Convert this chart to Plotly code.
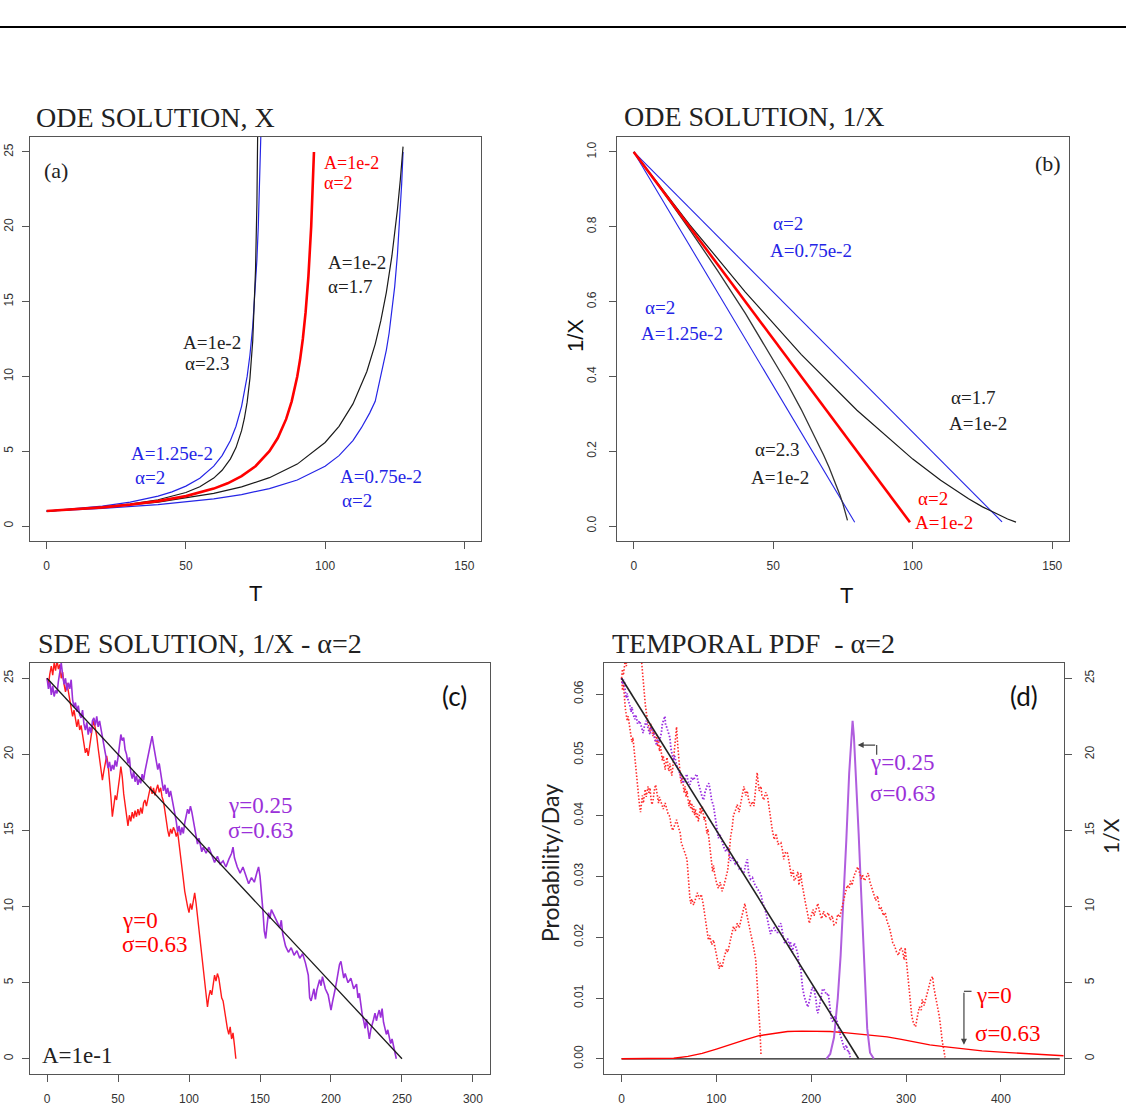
import plotly.graph_objects as go

# ---------------- DATA ----------------
# Panel (a): ODE solution X(T)
A_RED_T = [0, 10, 20, 30, 40, 50, 60, 65, 70, 75, 80, 83, 86, 88, 90, 91, 92, 93, 94, 95, 96]
A_RED_X = [1, 1.111, 1.25, 1.429, 1.667, 2, 2.5, 2.857, 3.333, 4, 5, 5.882, 7.143, 8.333, 10, 11.11, 12.5, 14.29, 16.67, 20, 25]
A_BLUE_HI_T = [0, 10, 20, 30, 40, 45, 50, 55, 60, 63, 66, 68, 70, 72, 73, 74, 75, 75.5, 76, 76.5, 77]
A_BLUE_HI_X = [1, 1.143, 1.333, 1.6, 2, 2.286, 2.667, 3.2, 4, 4.706, 5.714, 6.667, 8, 10, 11.43, 13.33, 16, 17.78, 20, 22.86, 26.67]
A_BLUE_LO_T = [0, 20, 40, 60, 70, 80, 90, 100, 105, 110, 113, 116, 118, 120, 122, 123, 124, 125, 126, 127, 127.5, 128]
A_BLUE_LO_X = [1, 1.176, 1.429, 1.818, 2.105, 2.5, 3.077, 4, 4.706, 5.714, 6.557, 7.547, 8.333, 10, 11.76, 12.9, 14.29, 16, 18.18, 21.05, 22.86, 25]
A_BLK23_T = [0, 10, 20, 30, 40, 50, 55, 60, 63, 66, 68, 70, 71, 72, 73, 74, 74.5, 75, 75.5, 76]
A_BLK23_X = [1, 1.113, 1.261, 1.463, 1.759, 2.242, 2.626, 3.205, 3.724, 4.489, 5.243, 6.374, 7.187, 8.28, 9.87, 12.37, 14.3, 17.08, 21.5, 30]
A_BLK17_T = [0, 20, 40, 60, 70, 80, 90, 100, 105, 110, 115, 118, 120, 122, 124, 125, 126, 127, 128]
A_BLK17_X = [1, 1.24, 1.599, 2.178, 2.617, 3.231, 4.139, 5.585, 6.667, 8.16, 10.33, 12.16, 13.71, 15.62, 18.05, 19.5, 21.18, 23.1, 25.36]

# Panel (b): ODE solution 1/X
B_RED_T = [0, 99]
B_RED_V = [1, 0.01]
B_BLUE_HI_T = [0, 79.2]
B_BLUE_HI_V = [1, 0.01]
B_BLUE_LO_T = [0, 132]
B_BLUE_LO_V = [1, 0.011]
B_BLK23_T = [0, 10, 20, 30, 40, 50, 55, 60, 65, 68, 70, 72, 74, 75, 76, 76.6]
B_BLK23_V = [1, 0.8985, 0.793, 0.6835, 0.5686, 0.446, 0.381, 0.312, 0.238, 0.1907, 0.1569, 0.1208, 0.0808, 0.0585, 0.0333, 0.015]
B_BLK17_T = [0, 20, 40, 60, 80, 100, 110, 120, 125, 130, 134, 137]
B_BLK17_V = [1, 0.806, 0.6254, 0.459, 0.3095, 0.179, 0.1225, 0.0729, 0.0513, 0.0321, 0.0188, 0.0104]

# Panel (c): SDE paths of 1/X  (t, value)
C_LINE_T = [0, 250]
C_LINE_V = [25, 0]
C_PURPLE = [(0,25.0),(1,24.3),(2,24.8),(3,23.9),(4,24.5),(5,23.8),(6,24.2),(7,24.0),(8,24.8),(9,25.4),(10,26.0),(11,25.2),(12,24.6),(13,25.0),(14,24.2),(15,24.7),(16,24.3),(17,24.9),(18,23.6),(19,23.1),(20,23.4),(21,22.8),(22,23.2),(23,22.6),(24,22.4),(25,22.9),(26,22.0),(27,21.6),(28,22.1),(29,21.3),(30,21.8),(31,21.4),(32,22.2),(33,22.4),(34,21.9),(35,22.5),(36,21.8),(37,22.2),(38,21.6),(39,21.0),(40,20.6),(41,20.1),(42,19.6),(43,19.1),(44,19.5),(45,18.9),(46,19.3),(47,19.0),(48,19.6),(49,19.2),(50,19.8),(51,20.5),(52,21.3),(53,20.9),(54,21.1),(55,20.3),(56,20.0),(57,19.4),(58,19.8),(59,18.8),(60,18.4),(61,18.9),(62,18.2),(63,18.6),(64,18.0),(65,18.4),(66,18.1),(67,18.7),(68,18.3),(69,18.9),(70,19.4),(71,19.8),(72,20.4),(73,20.9),(74,21.2),(75,20.6),(76,20.1),(77,19.5),(78,19.0),(79,19.4),(80,18.7),(81,18.1),(82,17.6),(83,18.0),(84,17.4),(85,17.8),(86,17.2),(87,17.6),(88,17.0),(89,16.5),(90,16.1),(91,15.6),(92,14.9),(93,15.3),(94,14.7),(95,15.2),(96,14.8),(97,15.5),(98,16.0),(99,16.4),(100,16.1),(101,16.6),(102,16.2),(103,15.6),(104,15.0),(105,14.6),(106,14.1),(107,14.5),(108,14.0),(109,13.6),(110,13.9),(112,13.5),(114,13.9),(116,13.4),(118,12.9),(120,13.3),(122,12.8),(124,13.0),(126,12.6),(128,13.1),(130,13.5),(131,13.9),(132,13.2),(134,12.6),(136,12.2),(138,12.6),(140,12.0),(142,11.5),(144,11.9),(146,11.6),(148,12.3),(149,12.6),(150,12.0),(151,11.0),(152,9.8),(153,8.4),(154,7.9),(155,8.8),(156,9.6),(157,9.2),(158,9.8),(160,9.4),(162,9.0),(164,8.6),(165,9.1),(166,8.2),(168,7.4),(170,7.0),(172,7.3),(174,6.8),(176,7.1),(178,6.6),(180,6.9),(182,6.3),(184,5.5),(185,4.0),(186,3.8),(187,4.3),(188,4.6),(189,3.9),(190,4.5),(192,5.2),(193,4.8),(194,5.4),(196,4.6),(198,4.2),(199,3.6),(200,3.2),(201,3.7),(202,4.3),(203,4.6),(204,5.1),(205,5.8),(206,6.2),(207,6.4),(208,5.7),(209,5.3),(210,5.6),(212,5.0),(214,5.3),(216,4.6),(218,4.9),(219,4.0),(220,4.3),(221,3.5),(222,2.9),(223,2.5),(224,2.0),(225,2.6),(226,1.8),(227,1.3),(228,1.9),(229,2.2),(230,2.6),(231,3.0),(232,2.5),(233,2.9),(234,3.2),(235,2.7),(236,3.3),(237,2.4),(238,1.9),(239,1.6),(240,1.9),(241,1.4),(242,1.0),(243,1.3),(244,0.8),(245,0.4),(246,0.0)]
C_RED = [(0,25.0),(1,24.6),(2,25.3),(3,25.8),(4,25.2),(5,26.0),(6,25.5),(7,26.2),(8,25.6),(9,25.9),(10,25.0),(11,25.4),(12,24.6),(13,24.1),(14,24.7),(15,24.2),(16,23.6),(17,23.1),(18,22.5),(19,22.9),(20,22.2),(21,21.8),(22,22.3),(23,21.6),(24,21.9),(25,21.2),(26,20.6),(27,20.1),(28,20.4),(29,19.9),(30,20.5),(31,21.2),(32,21.8),(33,22.2),(34,21.7),(35,21.2),(36,20.4),(37,19.6),(38,18.9),(39,18.3),(40,18.9),(41,19.4),(42,19.9),(43,19.3),(44,18.4),(45,17.2),(46,15.9),(47,16.6),(48,17.3),(49,17.0),(50,17.6),(51,18.4),(52,19.2),(53,18.5),(54,17.4),(55,16.6),(56,15.8),(57,15.3),(58,16.0),(59,15.6),(60,16.2),(61,15.8),(62,16.3),(63,15.9),(64,16.4),(65,16.0),(66,16.5),(67,16.1),(68,16.8),(69,17.0),(70,16.6),(71,17.2),(72,17.5),(73,17.9),(74,17.4),(75,17.8),(76,17.3),(77,17.7),(78,18.0),(79,17.5),(80,17.8),(81,17.2),(82,16.9),(83,16.3),(84,15.5),(85,15.0),(86,14.6),(87,15.1),(88,14.8),(89,15.2),(90,15.0),(91,14.6),(92,14.9),(93,14.2),(94,13.4),(95,12.6),(96,11.8),(97,11.0),(98,10.4),(99,10.0),(100,9.6),(101,10.2),(102,9.8),(103,10.5),(104,10.9),(105,10.2),(106,9.4),(107,8.6),(108,7.7),(109,6.8),(110,5.9),(111,5.0),(112,4.2),(113,3.4),(114,4.1),(115,4.5),(116,4.2),(117,4.9),(118,5.5),(119,5.1),(120,5.6),(121,5.3),(122,4.6),(123,4.0),(124,3.8),(125,3.1),(126,2.5),(127,2.0),(128,1.6),(129,2.1),(130,1.3),(131,1.7),(132,0.9),(133,0.0)]

# Panel (d): temporal PDF (left axis) and 1/X paths (right axis)
D_LINE_T = [0, 250]
D_LINE_V = [25, 0]
D_BASE_T = [0, 462]
D_BASE_V = [0, 0]
D_PDF_RED_T = [0, 40, 55, 70, 85, 100, 115, 130, 145, 160, 175, 190, 205, 220, 235, 250, 265, 280, 295, 310, 325, 340, 360, 380, 400, 420, 440, 466]
D_PDF_RED_V = [0, 0, 0.0001, 0.0004, 0.0009, 0.0016, 0.0024, 0.0031, 0.0038, 0.0042, 0.0045, 0.00455, 0.00455, 0.0045, 0.0043, 0.0041, 0.0039, 0.0036, 0.0032, 0.0027, 0.0023, 0.0020, 0.0016, 0.0013, 0.0011, 0.0009, 0.0007, 0.0005]
D_PDF_PUR_T = [216, 220, 224, 228, 231, 234, 237, 240, 242, 243.6, 245, 247, 250, 253, 256, 259, 262, 266]
D_PDF_PUR_V = [0, 0.0008, 0.0035, 0.010, 0.017, 0.026, 0.036, 0.047, 0.053, 0.0556, 0.053, 0.047, 0.037, 0.026, 0.016, 0.005, 0.001, 0]
D_RED_1 = [(0,25.0),(1,24.2),(2,24.6),(3,23.5),(4,23.0),(5,22.6),(6,22.2),(7,22.5),(8,21.9),(9,21.6),(10,21.2),(11,20.8),(12,21.1),(13,20.4),(14,19.8),(15,19.2),(16,18.6),(17,18.0),(18,17.4),(19,16.6),(20,16.2),(21,16.9),(22,17.3),(23,16.8),(24,17.4),(25,17.7),(26,17.2),(27,17.6),(28,17.9),(29,17.4),(30,17.8),(31,17.1),(32,16.7),(33,16.9),(34,17.4),(35,17.8),(36,18.0),(37,17.5),(38,17.1),(39,16.8),(40,17.2),(42,16.7),(44,16.4),(46,16.8),(47.5,16.5),(49,16.1),(51,15.9),(52,15.4),(54,15.0),(56,15.4),(58,15.7),(60,15.2),(62,14.8),(63,14.2),(65,13.9),(67,13.5),(69,13.1),(70,12.0),(71,11.3),(72,10.6),(73,10.2),(74,10.5),(76,10.1),(78,10.6),(80,10.9),(82,10.5),(84,10.8),(86,10.2),(88,9.4),(90,8.6),(91.6,7.8),(93,8.1),(95,7.5),(97,7.8),(99,7.2),(101,6.5),(103,5.9),(104,6.3),(106,6.0),(108,6.6),(110.6,7.2),(112,7.0),(114,7.6),(116,8.2),(118,8.7),(120,8.4),(122,8.9),(124,8.6),(126,9.1),(128,9.6),(130,10.2),(132,9.5),(134,8.9),(136,8.5),(137,8.0),(139,7.4),(141.5,6.5),(143,5.0),(145,3.2),(146,1.8),(147,0.3)]
D_RED_2 = [(0,25.0),(1,25.6),(2,25.2),(3,25.9),(4,26.3),(5,25.8),(6,26.4),(7,27.0),(8,27.5),(10,28.0),(15,28.3),(20,27.0),(21,26.2),(22,25.4),(23,24.5),(24,23.9),(25,23.3),(26,22.8),(27,22.3),(28,22.0),(29,21.8),(30,21.5),(31,22.0),(32,21.6),(33,21.2),(34,21.5),(35,21.0),(36,20.8),(37,21.3),(38,20.5),(39,20.9),(40,20.2),(41,20.6),(42,20.0),(43,19.6),(44,19.9),(45,19.4),(46,19.0),(47,19.5),(48,19.8),(49,19.2),(50,18.9),(51,19.4),(52,19.0),(53,18.6),(54,19.1),(55,19.9),(56,20.6),(57,21.4),(58,21.8),(59,20.8),(60,19.8),(61,19.0),(62,18.5),(63,18.1),(64,18.6),(65,18.0),(66,17.5),(67,17.9),(68,17.2),(69,17.6),(70,17.0),(71,16.6),(72,17.0),(73,16.4),(74,16.8),(75,16.2),(76,16.6),(77,16.0),(78,16.4),(79,15.8),(80,16.1),(81,15.6),(82,16.0),(83,16.5),(84,16.1),(85,16.6),(86,16.2),(87,15.7),(88,15.9),(89,15.2),(90,14.8),(91,15.1),(92,14.5),(93,13.8),(94,13.2),(95,12.8),(96,12.3),(97,12.7),(98,12.2),(100,11.6),(102,11.2),(104,11.6),(106,11.0),(108,11.4),(110,11.9),(112,12.4),(113,13.1),(114,13.9),(115,14.6),(116.7,15.2),(118,16.0),(120,16.3),(122,16.7),(124,16.2),(126,17.0),(128,17.6),(129,17.9),(131,17.3),(132.6,17.6),(134,17.0),(136,16.6),(138,16.9),(139.6,16.6),(141,17.5),(143,18.8),(144,18.2),(145,17.6),(147,17.9),(148,17.3),(150,17.0),(152,17.5),(154,17.2),(156,16.3),(157,15.7),(159,15.0),(161,14.4),(163,14.8),(165,14.1),(168,14.2),(170,13.6),(171,13.1),(173,13.6),(175,13.5),(177,12.8),(179,12.0),(181,12.4),(182,11.7),(184,11.9),(186,12.3),(187,11.4),(189,12.2),(190,11.6),(192,10.8),(194,10.2),(196,9.6),(198,8.9),(200,9.4),(202,9.8),(203,9.4),(205,9.9),(207,10.2),(209,9.6),(211,9.2),(213,9.7),(215,9.3),(218,9.6),(220,9.1),(222,9.4),(224,8.8),(226,8.9),(228,9.5),(230,9.3),(232,9.9),(234,10.5),(236,10.9),(238,11.4),(240,11.2),(241.5,11.7),(243,11.4),(245,12.0),(247,12.3),(249,12.6),(251,12.2),(253,11.8),(254,12.1),(256,11.7),(258,11.9),(260,12.2),(262,11.6),(264,11.1),(266,10.8),(268,10.4),(270,10.7),(272,9.8),(274,9.9),(276,9.4),(278,9.6),(280,9.0),(282,8.7),(284,8.2),(286,7.6),(288,7.4),(290,7.0),(292,6.8),(294,7.3),(296,7.2),(298,6.5),(299,7.3),(301,6.0),(303,4.8),(304,3.9),(305,3.4),(306,2.8),(308,2.3),(310,2.1),(312,2.8),(314,3.4),(316,3.2),(317,3.9),(319,3.5),(321,4.0),(323,4.5),(325,4.9),(326,5.2),(328,5.4),(329,4.8),(331,4.1),(333,3.4),(335,2.8),(337,1.8),(338,1.2),(340,0.5),(341,0.1)]
D_PURPLE = [(0,25.0),(1,24.6),(2,24.9),(3.2,24.7),(4,24.1),(5,23.7),(6,24.0),(7,23.5),(8.5,23.3),(10,22.8),(11,23.1),(12,22.7),(14,22.3),(15,22.6),(17,22.0),(19,22.2),(21,21.8),(22.7,21.4),(24,21.8),(26,22.2),(28,21.7),(30,21.3),(31,21.8),(33,21.6),(35,21.0),(37,20.6),(38,21.0),(40,20.9),(42,21.4),(43,22.0),(45.7,22.5),(46.5,21.9),(47.5,21.8),(49,21.5),(51,21.1),(52,20.4),(53,20.0),(54.6,19.6),(56,19.9),(58,19.3),(60,19.0),(61.7,18.7),(63,18.4),(65,18.1),(67,18.4),(68.8,18.7),(70,18.2),(72,18.0),(74,18.5),(75.9,18.3),(78,18.6),(79.4,18.7),(81,18.1),(83,17.6),(85,17.2),(86.5,17.0),(88,17.5),(90,17.9),(92,18.1),(93.6,17.6),(95,17.0),(97,16.6),(99,15.8),(100.7,15.0),(102,14.5),(104,14.7),(106,14.2),(107.8,13.9),(110,13.6),(112,13.9),(114,13.3),(115,13.0),(117,13.2),(118,13.1),(120,12.8),(122,12.9),(124,12.5),(125.5,12.6),(127,12.3),(129,12.2),(131,12.8),(132.6,13.1),(134,12.2),(136,11.8),(138,11.9),(140,11.5),(143,11.2),(145,11.0),(147,10.8),(149,10.2),(151,9.9),(153,9.4),(155,8.7),(157,8.2),(159,8.5),(161,8.6),(163,8.3),(164.6,8.3),(166,8.7),(168,8.9),(170,8.2),(172,7.6),(174,7.8),(175,7.9),(177,7.4),(178,7.7),(180,7.0),(182,7.6),(184,7.3),(186,6.8),(187,6.2),(189,5.9),(190,5.2),(191,4.6),(193,4.0),(195,3.6),(196.5,3.4),(198,3.8),(200,4.3),(201,4.7),(203,4.5),(205,3.9),(206,3.2),(207,3.0),(209,3.6),(211,4.2),(212,4.6),(214,4.5),(216,4.2),(218,4.3),(219,3.6),(221,2.7),(223,2.4),(225,2.8),(226.6,2.6),(228,2.2),(230,1.7),(232,1.3),(233.7,0.8),(235,0.6),(237,0.9),(239,0.4),(240,0.5),(241,0.1)]

# Tick values
TICKS_A_X = [0, 50, 100, 150]
TICKS_A_Y = [0, 5, 10, 15, 20, 25]
TICKS_B_Y = [0.0, 0.2, 0.4, 0.6, 0.8, 1.0]
TICKS_C_X = [0, 50, 100, 150, 200, 250, 300]
TICKS_D_X = [0, 100, 200, 300, 400]
TICKS_D_YL = [0.0, 0.01, 0.02, 0.03, 0.04, 0.05, 0.06]
TICKS_D_YR = [0, 5, 10, 15, 20, 25]

# ---------------- STYLE ----------------
W, H = 1126, 1113
SERIF = "Liberation Serif"
SANS = "Liberation Sans"
CALI = "Lato"
RED = "#ff0000"
BLUE = "#2525e6"
BLACK = "#1a1a1a"
PURPLE = "#9B30D9"
PURPLE_PDF = "#B05EDE"
GRAYTXT = "#222222"


def px(x):
    return x / W


def py(y):
    return 1 - y / H


def split(pairs):
    return [p[0] for p in pairs], [p[1] for p in pairs]


fig = go.Figure()


def line(x, y, color, width, xa, ya, dash=None):
    fig.add_trace(go.Scatter(x=x, y=y, mode="lines", xaxis=xa, yaxis=ya,
                             line=dict(color=color, width=width, dash=dash),
                             showlegend=False, hoverinfo="skip"))


# Panel (a)
line(A_BLUE_HI_T, A_BLUE_HI_X, BLUE, 1.2, "x", "y")
line(A_BLUE_LO_T, A_BLUE_LO_X, BLUE, 1.2, "x", "y")
line(A_BLK23_T, A_BLK23_X, BLACK, 1.2, "x", "y")
line(A_BLK17_T, A_BLK17_X, BLACK, 1.2, "x", "y")
line(A_RED_T, A_RED_X, RED, 2.6, "x", "y")

# Panel (b)
line(B_BLUE_HI_T, B_BLUE_HI_V, BLUE, 1.1, "x2", "y2")
line(B_BLUE_LO_T, B_BLUE_LO_V, BLUE, 1.1, "x2", "y2")
line(B_BLK23_T, B_BLK23_V, "#333333", 1.3, "x2", "y2")
line(B_BLK17_T, B_BLK17_V, BLACK, 1.2, "x2", "y2")
line(B_RED_T, B_RED_V, RED, 2.6, "x2", "y2")

# Panel (c)
t, v = split(C_RED)
line(t, v, "#ff1a1a", 1.4, "x3", "y3")
t, v = split(C_PURPLE)
line(t, v, PURPLE, 1.6, "x3", "y3")
line(C_LINE_T, C_LINE_V, BLACK, 1.3, "x3", "y3")

# Panel (d)
DOT = "1.5px,1.8px"
t, v = split(D_RED_1)
line(t, v, "#ff2a2a", 1.6, "x4", "y5", dash=DOT)
t, v = split(D_RED_2)
line(t, v, "#ff2a2a", 1.6, "x4", "y5", dash=DOT)
t, v = split(D_PURPLE)
line(t, v, "#9a2ee0", 1.8, "x4", "y5", dash=DOT)
line(D_LINE_T, D_LINE_V, "#222222", 1.6, "x4", "y5")
line(D_BASE_T, D_BASE_V, BLACK, 1.3, "x4", "y4")
line(D_PDF_RED_T, D_PDF_RED_V, RED, 1.4, "x4", "y4")
line(D_PDF_PUR_T, D_PDF_PUR_V, PURPLE_PDF, 2.0, "x4", "y4")

# ---------------- AXES ----------------
TICKFONT = dict(family=SANS, size=12, color="#333333")


def xax(domain, rng, ticks, anchor):
    return dict(domain=domain, range=rng, tickvals=ticks, anchor=anchor,
                showgrid=False, zeroline=False, showline=True, mirror=True,
                linecolor="#555555", linewidth=1.3, ticks="outside", ticklen=7,
                tickcolor="#555555", tickwidth=1, tickfont=TICKFONT,
                ticklabelstandoff=6)


def yax(domain, rng, ticks, anchor, fmt=None):
    d = dict(domain=domain, range=rng, tickvals=ticks, anchor=anchor,
             showgrid=False, zeroline=False, showline=True, mirror=True,
             linecolor="#555555", linewidth=1.3, ticks="outside", ticklen=7,
             tickcolor="#555555", tickwidth=1, tickfont=TICKFONT, tickangle=-90,
             ticklabelstandoff=4)
    if fmt:
        d["tickformat"] = fmt
    return d


DOM_A_X = [px(30), px(481)]
DOM_B_X = [px(617), px(1069)]
DOM_TOP_Y = [py(541), py(137)]
DOM_C_X = [px(30), px(490)]
DOM_D_X = [px(604), px(1064)]
DOM_BOT_Y = [py(1074), py(663)]

layout = dict(
    width=W, height=H, autosize=False,
    margin=dict(l=0, r=0, t=0, b=0),
    paper_bgcolor="white", plot_bgcolor="white",
    showlegend=False,
    xaxis=xax(DOM_A_X, [-6, 156], TICKS_A_X, "y"),
    yaxis=yax(DOM_TOP_Y, [-1, 26], TICKS_A_Y, "x"),
    xaxis2=xax(DOM_B_X, [-6, 156], TICKS_A_X, "y2"),
    yaxis2=yax(DOM_TOP_Y, [-0.04, 1.04], TICKS_B_Y, "x2", fmt=".1f"),
    xaxis3=xax(DOM_C_X, [-12, 312], TICKS_C_X, "y3"),
    yaxis3=yax(DOM_BOT_Y, [-1, 26], TICKS_A_Y, "x3"),
    xaxis4=xax(DOM_D_X, [-18.5, 466.5], TICKS_D_X, "y4"),
    yaxis4=yax(DOM_BOT_Y, [-0.0025, 0.0651], TICKS_D_YL, "x4", fmt=".2f"),
)
y5 = yax(DOM_BOT_Y, [-1, 26], TICKS_D_YR, "x4")
y5.update(overlaying="y4", side="right", showline=False, mirror=False)
layout["yaxis5"] = y5
layout["yaxis2"]["ticklabelstandoff"] = 8
layout["yaxis4"]["ticklabelstandoff"] = 8
layout["yaxis5"]["ticklabelstandoff"] = 8
fig.update_layout(**layout)

# ---------------- TEXT ----------------
ann = []


def txt(x, y, s, size, color, family=SERIF, anchor="left", angle=0):
    ann.append(dict(xref="paper", yref="paper", x=px(x), y=py(y), text=s,
                    showarrow=False, xanchor=anchor, yanchor="middle",
                    textangle=angle, font=dict(family=family, size=size, color=color)))


# titles
txt(34, 118, "ODE SOLUTION, X", 28, GRAYTXT)
txt(622, 116, "ODE SOLUTION, 1/X", 28, GRAYTXT)
txt(36, 643, "SDE SOLUTION, 1/X - \u03b1=2", 28, GRAYTXT)
txt(610, 643, "TEMPORAL PDF \u00a0- \u03b1=2", 28, GRAYTXT)

# axis titles
txt(255, 593, "T", 22, "#111111", family=SANS, anchor="center")
txt(846, 595, "T", 22, "#111111", family=SANS, anchor="center")
txt(576, 336, "1/X", 22, "#111111", family=SANS, anchor="center", angle=-90)
txt(550, 863, "Probability/Day", 23, "#222222", family=CALI, anchor="center", angle=-90)
txt(1110, 836, "1/X", 21, "#222222", family=CALI, anchor="center", angle=-90)

# panel (a)
txt(56, 170, "(a)", 22, GRAYTXT, anchor="center")
txt(322, 163, "A=1e-2", 18, RED)
txt(322, 183, "\u03b1=2", 18, RED)
txt(326, 262, "A=1e-2", 19, GRAYTXT)
txt(326, 286, "\u03b1=1.7", 19, GRAYTXT)
txt(181, 343, "A=1e-2", 19, GRAYTXT)
txt(183, 364, "\u03b1=2.3", 19, GRAYTXT)
txt(129, 453, "A=1.25e-2", 19, BLUE)
txt(133, 478, "\u03b1=2", 19, BLUE)
txt(338, 476, "A=0.75e-2", 19, BLUE)
txt(340, 500, "\u03b1=2", 19, BLUE)

# panel (b)
txt(1048, 163, "(b)", 22, GRAYTXT, anchor="center")
txt(771, 223, "\u03b1=2", 19, BLUE)
txt(768, 250, "A=0.75e-2", 19, BLUE)
txt(643, 307, "\u03b1=2", 19, BLUE)
txt(639, 333, "A=1.25e-2", 19, BLUE)
txt(949, 397, "\u03b1=1.7", 19, GRAYTXT)
txt(947, 423, "A=1e-2", 19, GRAYTXT)
txt(753, 450, "\u03b1=2.3", 19, GRAYTXT)
txt(749, 477, "A=1e-2", 19, GRAYTXT)
txt(916, 498, "\u03b1=2", 19, RED)
txt(913, 522, "A=1e-2", 19, RED)

# panel (c)
txt(454, 696, "(c)", 26, "#111111", family=CALI, anchor="center")
txt(226, 805, "\u03b3=0.25", 23, PURPLE)
txt(226, 830, "\u03c3=0.63", 23, PURPLE)
txt(120, 920, "\u03b3=0", 23, RED)
txt(120, 944, "\u03c3=0.63", 23, RED)
txt(40, 1055, "A=1e-1", 23, GRAYTXT)

# panel (d)
txt(1024, 696, "(d)", 26, "#111111", family=CALI, anchor="center")
txt(868, 762, "\u03b3=0.25", 23, PURPLE)
txt(868, 793, "\u03c3=0.63", 23, PURPLE)
txt(974, 995, "\u03b3=0", 23, RED)
txt(973, 1033, "\u03c3=0.63", 23, RED)

# arrows in panel (d) (data coords)
ann.append(dict(xref="x4", yref="y4", axref="x4", ayref="y4",
                x=249, y=0.0516, ax=269, ay=0.0516, text="", showarrow=True,
                arrowhead=2, arrowsize=1, arrowwidth=1.2, arrowcolor="#444444"))
ann.append(dict(xref="x4", yref="y4", axref="x4", ayref="y4",
                x=361, y=0.0023, ax=361, ay=0.0111, text="", showarrow=True,
                arrowhead=2, arrowsize=1, arrowwidth=1.2, arrowcolor="#444444"))

shapes = [
    dict(type="line", xref="paper", yref="paper", x0=0, x1=1, y0=py(27), y1=py(27),
         line=dict(color="black", width=2)),
    dict(type="line", xref="x4", yref="y4", x0=269, x1=269, y0=0.0516, y1=0.0500,
         line=dict(color="#444444", width=1.2)),
    dict(type="line", xref="x4", yref="y4", x0=361, x1=369, y0=0.0111, y1=0.0111,
         line=dict(color="#444444", width=1.2)),
]

fig.update_layout(annotations=ann, shapes=shapes)
fig.write_html(
    "out.html",
    config={"displayModeBar": False},
    post_script="document.body.style.margin='0';document.body.style.overflow='hidden';",
)
